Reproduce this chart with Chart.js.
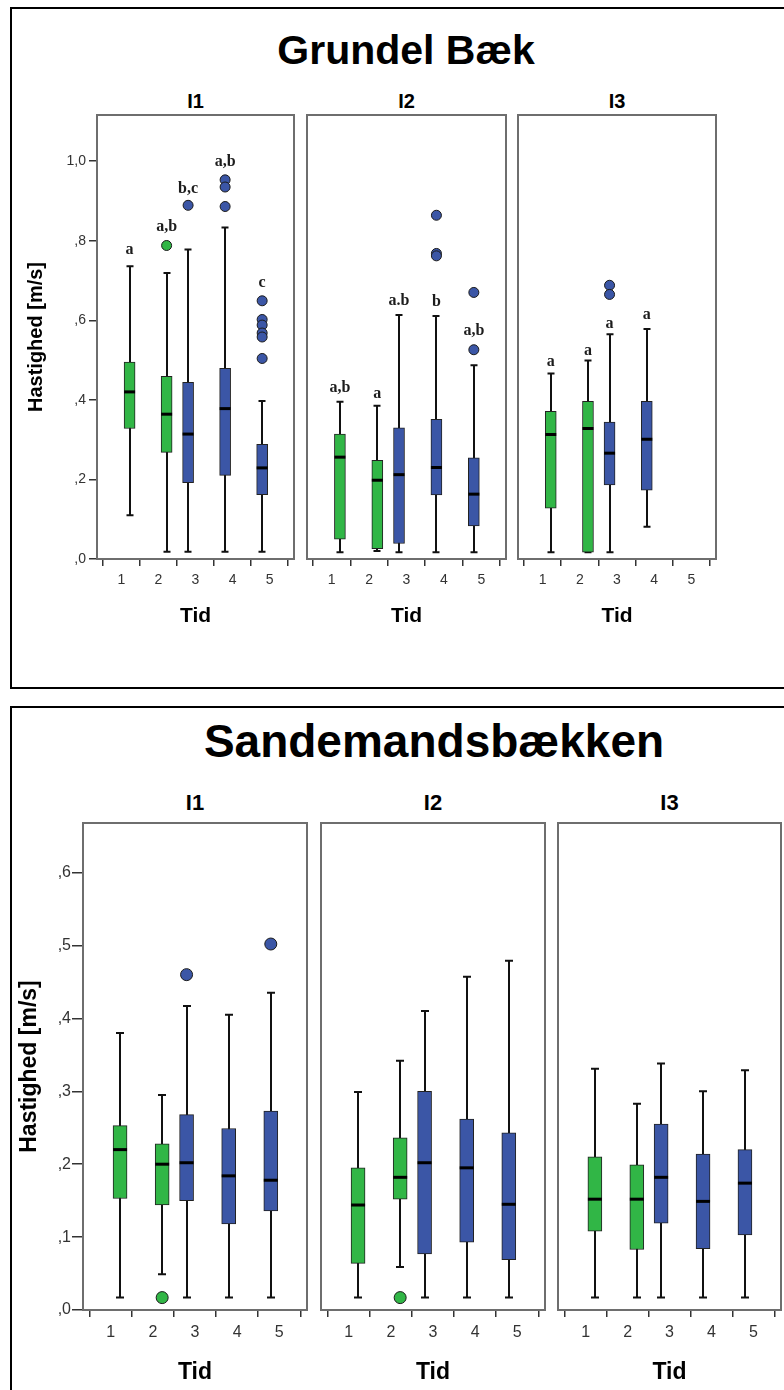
<!DOCTYPE html>
<html>
<head>
<meta charset="utf-8">
<script src="https://cdn.jsdelivr.net/npm/chart.js@4.4.1/dist/chart.umd.min.js"></script>
<style>
  html, body { margin: 0; padding: 0; background: #fff; }
  body { position: relative; width: 784px; height: 1390px; overflow: hidden; font-family: 'Liberation Sans', Arial, sans-serif; }
  .fig { position: absolute; border: 2px solid #000; box-sizing: border-box; }
  .txt { position: absolute; font-weight: bold; color: #000; text-align: center; white-space: nowrap; }
  canvas { position: absolute; }
</style>
</head>
<body>
<div class="fig" style="left:10px;top:7px;width:900px;height:682px"></div>
<div class="fig" style="left:10px;top:706px;width:900px;height:800px"></div>
<script>
// shared categories: Tid 1-5, first two are the green group, the rest blue
const TID = [1, 2, 3, 4, 5];
const GROUP = ['green', 'green', 'blue', 'blue', 'blue'];
const FILL = { green: '#31b646', blue: '#3b56a6' };
const SHIFT = { green: 0.22, blue: -0.2 };

// Grundel Bæk
const gbTicks = [0, 0.2, 0.4, 0.6, 0.8, 1.0];
const gbTickLabels = [',0', ',2', ',4', ',6', ',8', '1,0'];

const gbI1Low  = [0.110, 0.018, 0.018, 0.018, 0.018];
const gbI1Q1   = [0.328, 0.268, 0.192, 0.210, 0.162];
const gbI1Med  = [0.420, 0.364, 0.314, 0.378, 0.229];
const gbI1Q3   = [0.495, 0.459, 0.444, 0.479, 0.288];
const gbI1High = [0.736, 0.719, 0.778, 0.833, 0.397];
const gbI1OutTid = [2, 3, 4, 4, 4, 5, 5, 5, 5, 5, 5];
const gbI1OutVal = [0.788, 0.889, 0.953, 0.935, 0.886, 0.649, 0.602, 0.588, 0.568, 0.558, 0.504];
const gbI1Letters  = ['a', 'a,b', 'b,c', 'a,b', 'c'];
const gbI1LetterAt = [0.776, 0.834, 0.930, 0.997, 0.695];

const gbI2Low  = [0.017, 0.020, 0.017, 0.017, 0.017];
const gbI2Q1   = [0.050, 0.026, 0.039, 0.161, 0.083];
const gbI2Med  = [0.256, 0.198, 0.212, 0.230, 0.163];
const gbI2Q3   = [0.314, 0.248, 0.330, 0.351, 0.254];
const gbI2High = [0.395, 0.385, 0.613, 0.611, 0.487];
const gbI2OutTid = [4, 4, 4, 5, 5];
const gbI2OutVal = [0.864, 0.768, 0.762, 0.670, 0.526];
const gbI2Letters  = ['a,b', 'a', 'a.b', 'b', 'a,b'];
const gbI2LetterAt = [0.430, 0.416, 0.650, 0.646, 0.574];

const gbI3Low  = [0.017, 0.017, 0.017, 0.081, null];
const gbI3Q1   = [0.128, 0.017, 0.186, 0.173, null];
const gbI3Med  = [0.313, 0.328, 0.266, 0.301, null];
const gbI3Q3   = [0.371, 0.396, 0.344, 0.396, null];
const gbI3High = [0.466, 0.499, 0.565, 0.578, null];
const gbI3OutTid = [3, 3];
const gbI3OutVal = [0.688, 0.665];
const gbI3Letters  = ['a', 'a', 'a', 'a', null];
const gbI3LetterAt = [0.495, 0.524, 0.590, 0.613, null];

// Sandemandsbækken
const sbTicks = [0, 0.1, 0.2, 0.3, 0.4, 0.5, 0.6];
const sbTickLabels = [',0', ',1', ',2', ',3', ',4', ',5', ',6'];

const sbI1Low  = [0.017, 0.049, 0.017, 0.017, 0.017];
const sbI1Q1   = [0.153, 0.144, 0.150, 0.118, 0.136];
const sbI1Med  = [0.220, 0.200, 0.202, 0.184, 0.178];
const sbI1Q3   = [0.253, 0.228, 0.268, 0.249, 0.273];
const sbI1High = [0.380, 0.295, 0.417, 0.405, 0.435];
const sbI1OutTid = [2, 3, 5];
const sbI1OutVal = [0.017, 0.460, 0.502];

const sbI2Low  = [0.017, 0.059, 0.017, 0.017, 0.017];
const sbI2Q1   = [0.064, 0.152, 0.077, 0.093, 0.069];
const sbI2Med  = [0.144, 0.182, 0.202, 0.195, 0.145];
const sbI2Q3   = [0.195, 0.236, 0.300, 0.262, 0.243];
const sbI2High = [0.299, 0.342, 0.410, 0.457, 0.479];
const sbI2OutTid = [2];
const sbI2OutVal = [0.017];

const sbI3Low  = [0.017, 0.017, 0.017, 0.017, 0.017];
const sbI3Q1   = [0.108, 0.083, 0.119, 0.084, 0.103];
const sbI3Med  = [0.152, 0.152, 0.182, 0.149, 0.174];
const sbI3Q3   = [0.210, 0.199, 0.255, 0.214, 0.220];
const sbI3High = [0.331, 0.283, 0.338, 0.300, 0.329];

Chart.defaults.font.family = "'Liberation Sans', Arial, sans-serif";

const figs = [
  {
    title: 'Grundel Bæk', titleX: 406, titleY: 50, titleSize: 41,
    yMax: 1.116, ticks: gbTicks, tickLabels: gbTickLabels,
    frameTop: 115, frameBottom: 559, panelTitleY: 101, panelTitleSize: 20,
    xAxisH: 72, tickSize: 14, xTickPad: 6, yTickLen: 8, yTickPad: 3,
    tidSize: 21, tidPad: 2, yAxisW: 85, yTitleSize: 20, yTitlePad: 12,
    barW: 11, cap: 7, dot: 5,
    panels: [
      { name: 'I1', frame: [97, 294], low: gbI1Low, q1: gbI1Q1, med: gbI1Med, q3: gbI1Q3, high: gbI1High,
        outTid: gbI1OutTid, outVal: gbI1OutVal, letters: gbI1Letters, letterAt: gbI1LetterAt },
      { name: 'I2', frame: [307, 506], low: gbI2Low, q1: gbI2Q1, med: gbI2Med, q3: gbI2Q3, high: gbI2High,
        outTid: gbI2OutTid, outVal: gbI2OutVal, letters: gbI2Letters, letterAt: gbI2LetterAt },
      { name: 'I3', frame: [518, 716], low: gbI3Low, q1: gbI3Q1, med: gbI3Med, q3: gbI3Q3, high: gbI3High,
        outTid: gbI3OutTid, outVal: gbI3OutVal, letters: gbI3Letters, letterAt: gbI3LetterAt }
    ]
  },
  {
    title: 'Sandemandsbækken', titleX: 434, titleY: 741, titleSize: 46,
    yMax: 0.668, ticks: sbTicks, tickLabels: sbTickLabels,
    frameTop: 823, frameBottom: 1310, panelTitleY: 803, panelTitleSize: 22,
    xAxisH: 80, tickSize: 16, xTickPad: 6, yTickLen: 11, yTickPad: 1,
    tidSize: 23, tidPad: 4, yAxisW: 73, yTitleSize: 23, yTitlePad: 6,
    barW: 14, cap: 8, dot: 6,
    panels: [
      { name: 'I1', frame: [83, 307], low: sbI1Low, q1: sbI1Q1, med: sbI1Med, q3: sbI1Q3, high: sbI1High,
        outTid: sbI1OutTid, outVal: sbI1OutVal },
      { name: 'I2', frame: [321, 545], low: sbI2Low, q1: sbI2Q1, med: sbI2Med, q3: sbI2Q3, high: sbI2High,
        outTid: sbI2OutTid, outVal: sbI2OutVal },
      { name: 'I3', frame: [558, 781], low: sbI3Low, q1: sbI3Q1, med: sbI3Med, q3: sbI3Q3, high: sbI3High,
        outTid: [], outVal: [] }
    ]
  }
];

function label(text, cx, cy, size) {
  const d = document.createElement('div');
  d.className = 'txt';
  d.textContent = text;
  d.style.left = (cx - 300) + 'px';
  d.style.width = '600px';
  d.style.top = (cy - size * 0.59) + 'px';
  d.style.fontSize = size + 'px';
  d.style.lineHeight = (size * 1.2) + 'px';
  document.body.appendChild(d);
}

// whiskers, frame, medians and letters drawn through the chart's own scales
function boxParts(fig, p) {
  const xOf = i => TID[i] + SHIFT[GROUP[i]];
  return {
    id: 'boxParts',
    beforeDatasetsDraw(chart) {
      const { ctx, chartArea: a, scales: { x, y } } = chart;
      ctx.save();
      ctx.strokeStyle = '#6e6e6e';
      ctx.lineWidth = 2;
      ctx.strokeRect(a.left, a.top, a.right - a.left, a.bottom - a.top);
      ctx.strokeStyle = '#111';
      ctx.lineWidth = 2;
      p.q1.forEach((q, i) => {
        if (q == null) return;
        const px = Math.round(x.getPixelForValue(xOf(i)));
        const lo = y.getPixelForValue(p.low[i]);
        const hi = y.getPixelForValue(p.high[i]);
        ctx.beginPath();
        ctx.moveTo(px, lo); ctx.lineTo(px, hi);
        ctx.moveTo(px - fig.cap / 2, lo); ctx.lineTo(px + fig.cap / 2, lo);
        ctx.moveTo(px - fig.cap / 2, hi); ctx.lineTo(px + fig.cap / 2, hi);
        ctx.stroke();
      });
      ctx.restore();
    },
    afterDatasetsDraw(chart) {
      const { ctx, scales: { x, y } } = chart;
      ctx.save();
      ctx.strokeStyle = '#000';
      ctx.lineWidth = 3;
      p.med.forEach((m, i) => {
        if (m == null) return;
        const px = x.getPixelForValue(xOf(i));
        const py = y.getPixelForValue(m);
        ctx.beginPath();
        ctx.moveTo(px - fig.barW / 2, py); ctx.lineTo(px + fig.barW / 2, py);
        ctx.stroke();
      });
      ctx.restore();
    },
    afterDraw(chart) {
      if (!p.letters) return;
      const { ctx, scales: { x, y } } = chart;
      ctx.save();
      ctx.font = "bold 16px 'Liberation Serif', 'Times New Roman', serif";
      ctx.fillStyle = '#1c1c1c';
      ctx.textAlign = 'center';
      ctx.textBaseline = 'middle';
      p.letters.forEach((t, i) => {
        if (!t) return;
        ctx.fillText(t, x.getPixelForValue(xOf(i)), y.getPixelForValue(p.letterAt[i]));
      });
      ctx.restore();
    }
  };
}

function makePanel(fig, p, k) {
  const hasY = k === 0;
  const padL = hasY ? 0 : 2, padR = 2, padT = 2;
  const yW = hasY ? fig.yAxisW : 0;
  const left = p.frame[0] - yW - padL;
  const top = fig.frameTop - padT;
  const cv = document.createElement('canvas');
  cv.width = p.frame[1] - left + padR;
  cv.height = padT + (fig.frameBottom - fig.frameTop) + fig.xAxisH;
  cv.style.left = left + 'px';
  cv.style.top = top + 'px';
  document.body.appendChild(cv);

  const idx = TID.map((t, i) => i).filter(i => p.q1[i] != null);
  const boxes = idx.map(i => ({ x: TID[i] + SHIFT[GROUP[i]], y: [p.q1[i], p.q3[i]] }));
  const boxColors = idx.map(i => FILL[GROUP[i]]);
  const outs = p.outTid.map((t, j) => ({ x: t + SHIFT[GROUP[t - 1]], y: p.outVal[j] }));
  const outColors = p.outTid.map(t => FILL[GROUP[t - 1]]);

  new Chart(cv, {
    type: 'bar',
    data: {
      datasets: [
        {
          type: 'bar',
          data: boxes,
          backgroundColor: boxColors,
          borderColor: '#222',
          borderWidth: 1,
          borderSkipped: false,
          barThickness: fig.barW
        },
        {
          type: 'scatter',
          data: outs,
          pointRadius: fig.dot,
          pointBackgroundColor: outColors,
          pointBorderColor: '#1a1a1a',
          pointBorderWidth: 1
        }
      ]
    },
    options: {
      responsive: false,
      animation: false,
      events: [],
      layout: { autoPadding: false, padding: { left: padL, right: padR, top: padT, bottom: 0 } },
      plugins: { legend: { display: false }, tooltip: { enabled: false } },
      scales: {
        x: {
          type: 'linear', min: 0.34, max: 5.66, offset: false,
          afterBuildTicks: s => { s.ticks = TID.map(v => ({ value: v })); },
          afterFit: s => { s.height = fig.xAxisH; s.paddingLeft = 0; s.paddingRight = 0; },
          grid: { drawOnChartArea: false, drawTicks: true, tickLength: 7, color: '#333', lineWidth: 1.5 },
          border: { display: false },
          ticks: { color: '#333', font: { size: fig.tickSize }, padding: fig.xTickPad, maxRotation: 0,
                   callback: v => String(v) },
          title: { display: true, text: 'Tid', color: '#000',
                   font: { size: fig.tidSize, weight: 'bold' }, padding: { top: 0, bottom: fig.tidPad } }
        },
        y: {
          display: hasY, min: 0, max: fig.yMax,
          afterBuildTicks: s => { s.ticks = fig.ticks.map(v => ({ value: v })); },
          afterFit: s => { s.width = hasY ? fig.yAxisW : 0; s.paddingTop = 0; s.paddingBottom = 0; },
          grid: { drawOnChartArea: false, drawTicks: true, tickLength: fig.yTickLen, color: '#333', lineWidth: 1.5 },
          border: { display: false },
          ticks: { color: '#333', font: { size: fig.tickSize }, padding: fig.yTickPad,
                   callback: (v, i) => fig.tickLabels[i] },
          title: { display: true, text: 'Hastighed [m/s]', color: '#000',
                   font: { size: fig.yTitleSize, weight: 'bold' }, padding: { top: fig.yTitlePad, bottom: 0 } }
        }
      }
    },
    plugins: [boxParts(fig, p)]
  });

  label(p.name, (p.frame[0] + p.frame[1]) / 2, fig.panelTitleY, fig.panelTitleSize);
}

figs.forEach(fig => {
  label(fig.title, fig.titleX, fig.titleY, fig.titleSize);
  fig.panels.forEach((p, k) => makePanel(fig, p, k));
});
</script>
</body>
</html>
